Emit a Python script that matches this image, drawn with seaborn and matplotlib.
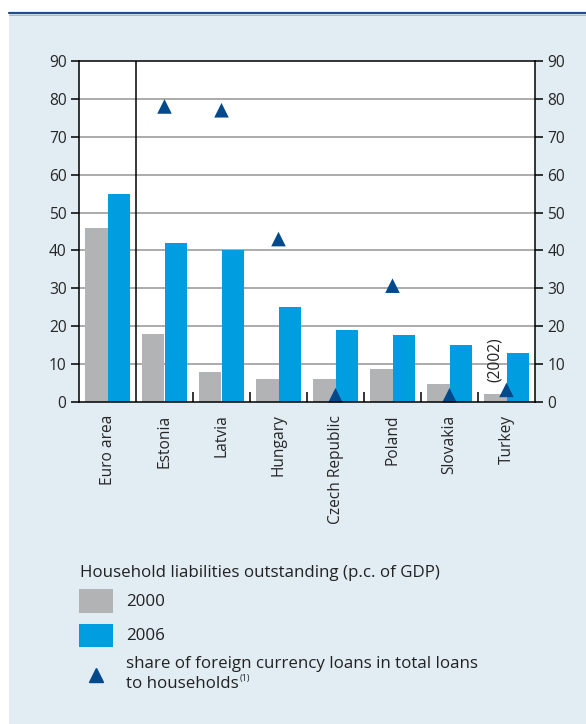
import numpy as np
import pandas as pd
import matplotlib
matplotlib.use("Agg")
import matplotlib.pyplot as plt
from matplotlib.patches import Rectangle
from matplotlib.lines import Line2D
import seaborn as sns

# Data
countries = ["Euro area", "Estonia", "Latvia", "Hungary", "Czech Republic",
             "Poland", "Slovakia", "Turkey"]
liab_2000 = [46, 18, 8, 6, 6, 8.7, 4.7, 2]
liab_2006 = [55, 42, 40, 25, 19, 17.7, 15, 13]
fx_share = [np.nan, 78, 77, 43, 1.8, 30.7, 1.8, 3.2]
years = ["2000", "2006"]
yticks = [0, 10, 20, 30, 40, 50, 60, 70, 80, 90]

df = pd.DataFrame({
    "country": countries * 2,
    "year": [years[0]] * len(countries) + [years[1]] * len(countries),
    "value": liab_2000 + liab_2006,
})

GREY = "#b2b3b5"
BLUE = "#009ee0"
NAVY = "#004a8c"
PANEL = "#e1ecf3"

sns.set_style("white")
plt.rcParams["font.family"] = ["Open Sans", "DejaVu Sans"]
plt.rcParams["text.color"] = "#222222"

W, H = 586, 724
fig = plt.figure(figsize=(W / 100, H / 100), dpi=100, facecolor="white")

# Panel background and top rule
fig.add_artist(Rectangle((9 / W, 0), 1 - 9 / W, 1 - 13 / H,
                         transform=fig.transFigure, facecolor=PANEL,
                         edgecolor="none", zorder=0))
fig.add_artist(Line2D([9 / W, 1], [1 - 13 / H, 1 - 13 / H],
                      transform=fig.transFigure, color="#1d4f8c", lw=1.6))
fig.add_artist(Line2D([9 / W, 1], [1 - 14.6 / H, 1 - 14.6 / H],
                      transform=fig.transFigure, color="#8fb3d6", lw=0.6))

ax = fig.add_axes([79 / W, 1 - 402 / H, 456 / W, 341 / H])
ax.set_facecolor("white")

sns.barplot(data=df, x="country", y="value", hue="year", order=countries,
            hue_order=years, palette=[GREY, BLUE], width=0.8, saturation=1,
            linewidth=0, edgecolor="none", ax=ax, legend=False, zorder=3)

pos = np.arange(len(countries))
sns.scatterplot(x=pos, y=fx_share, marker="^", color=NAVY, s=110,
                edgecolor="none", ax=ax, zorder=5, clip_on=False)

ax.set_xlim(-0.5, len(countries) - 0.5)
ax.set_ylim(0, 90)
ax.set_xlabel("")
ax.set_ylabel("")

# Horizontal grid lines between 0 and 90
for v in yticks[1:-1]:
    ax.axhline(v, color="#a5a5a5", lw=1.3, zorder=1)

# Separator between euro area and the country group
ax.axvline(0.5, color="black", lw=1.1, zorder=4)

for s in ax.spines.values():
    s.set_color("black")
    s.set_linewidth(1.1)
    s.set_visible(True)
    s.set_zorder(6)

TS = 11.2
ax.set_yticks(yticks)
ax.tick_params(axis="y", direction="out", length=6, width=1.1, color="black",
               labelsize=TS, pad=3, left=True)

ax.set_xticks(pos)
ax.set_xticklabels(countries, rotation=90, fontsize=TS, va="top", ha="center")
ax.tick_params(axis="x", which="major", length=0, pad=9)
ax.set_xticks(pos[1:-1] + 0.5, minor=True)
ax.tick_params(axis="x", which="minor", direction="in", length=7, width=1.1,
               color="black", bottom=True, top=False)

ax2 = ax.twinx()
ax2.set_ylim(0, 90)
ax2.set_yticks(yticks)
ax2.tick_params(axis="y", direction="out", length=6, width=1.1, color="black",
                labelsize=TS, pad=3)
for s in ax2.spines.values():
    s.set_visible(False)

# Note on the Turkey 2000 bar
ax.text(len(countries) - 1 - 0.2, 5.2, "(2002)", rotation=90, ha="center",
        va="bottom", fontsize=TS, zorder=6)

# Legend
fs = 12.2
fig.text(80 / W, 1 - 573 / H, "Household liabilities outstanding (p.c. of GDP)",
         fontsize=fs, va="center", ha="left")
fig.add_artist(Rectangle((79 / W, 1 - 613 / H), 34 / W, 24 / H,
                         transform=fig.transFigure, facecolor=GREY,
                         edgecolor="none"))
fig.text(126 / W, 1 - 602 / H, years[0], fontsize=fs, va="center", ha="left")
fig.add_artist(Rectangle((79 / W, 1 - 647 / H), 34 / W, 23 / H,
                         transform=fig.transFigure, facecolor=BLUE,
                         edgecolor="none"))
fig.text(126 / W, 1 - 636 / H, years[1], fontsize=fs, va="center", ha="left")
fig.add_artist(Line2D([96 / W], [1 - 675 / H], transform=fig.transFigure,
                      marker="^", markersize=10, color=NAVY, lw=0))
fig.text(126 / W, 1 - 664 / H,
         "share of foreign currency loans in total loans",
         fontsize=fs, va="center", ha="left")
t = fig.text(126 / W, 1 - 684 / H, "to households",
             fontsize=fs, va="center", ha="left")
fig.canvas.draw()
bb = t.get_window_extent()
fig.text((bb.x1 + 1) / W, 1 - 679 / H, "(1)", fontsize=6.5,
         va="center", ha="left")

fig.savefig("out.png", dpi=100, facecolor="white")
